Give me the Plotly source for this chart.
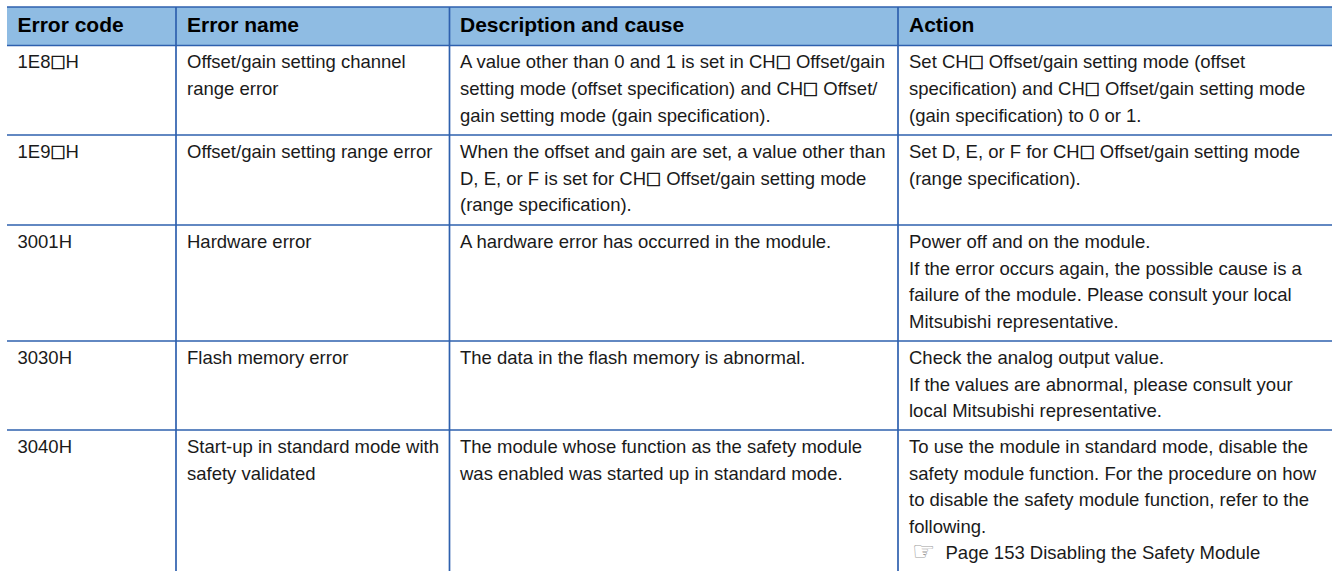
import plotly.graph_objects as go

headers = ["Error code", "Error name", "Description and cause", "Action"]
B = "<span style='font-family:\"Noto Sans CJK JP\";font-size:15px;stroke:#1a1a1a;stroke-width:0.7px'>□</span>"
error_codes = [[f"1E8{B}H"], [f"1E9{B}H"], ["3001H"], ["3030H"], ["3040H"]]
error_names = [
    ["Offset/gain setting channel", "range error"],
    ["Offset/gain setting range error"],
    ["Hardware error"],
    ["Flash memory error"],
    ["Start-up in standard mode with", "safety validated"],
]
descriptions = [
    [f"A value other than 0 and 1 is set in CH{B} Offset/gain", f"setting mode (offset specification) and CH{B} Offset/", "gain setting mode (gain specification)."],
    ["When the offset and gain are set, a value other than", f"D, E, or F is set for CH{B} Offset/gain setting mode", "(range specification)."],
    ["A hardware error has occurred in the module."],
    ["The data in the flash memory is abnormal."],
    ["The module whose function as the safety module", "was enabled was started up in standard mode."],
]
actions = [
    [f"Set CH{B} Offset/gain setting mode (offset", f"specification) and CH{B} Offset/gain setting mode", "(gain specification) to 0 or 1."],
    [f"Set D, E, or F for CH{B} Offset/gain setting mode", "(range specification)."],
    ["Power off and on the module.", "If the error occurs again, the possible cause is a", "failure of the module. Please consult your local", "Mitsubishi representative."],
    ["Check the analog output value.", "If the values are abnormal, please consult your", "local Mitsubishi representative."],
    ["To use the module in standard mode, disable the", "safety module function. For the procedure on how", "to disable the safety module function, refer to the", "following."],
]
reference_icon = ["☞"]
reference_link = ["Page 153 Disabling the Safety Module"]
columns = [error_codes, error_names, descriptions, actions]
column_edges = [7, 176, 449.5, 898, 1332]
text_x = [17.5, 187, 460, 909]
header_top, header_bottom = 7, 45.5
row_tops = [45.5, 135, 225, 341, 430]
table_bottom = 571
line_pitch = 26.6
first_line_offset = 18.3
header_mid = 26.3
LINE = "#2E60AE"
HEAD = "#8FBCE3"
BODY = 18.5
HSIZE = 21
FONT = "Liberation Sans"

fig = go.Figure()
fig.add_trace(go.Scatter(
    x=[column_edges[0], column_edges[-1], column_edges[-1], column_edges[0], column_edges[0]],
    y=[header_top, header_top, header_bottom, header_bottom, header_top],
    mode="lines", fill="toself", fillcolor=HEAD, line=dict(width=0), hoverinfo="skip", showlegend=False))
for y in [header_top, header_bottom] + row_tops[1:]:
    fig.add_trace(go.Scatter(x=[column_edges[0], column_edges[-1]], y=[y, y], mode="lines",
                             line=dict(color=LINE, width=1.7), hoverinfo="skip", showlegend=False))
for x in column_edges[1:-1]:
    fig.add_trace(go.Scatter(x=[x, x], y=[header_top, table_bottom], mode="lines",
                             line=dict(color=LINE, width=1.7), hoverinfo="skip", showlegend=False))
fig.add_trace(go.Scatter(x=text_x, y=[header_mid] * 4, text=[f"<b>{h}</b>" for h in headers], mode="text",
                         textposition="middle right", textfont=dict(family=FONT, size=HSIZE, color="#000000"),
                         hoverinfo="skip", showlegend=False))
for cx, col in zip(text_x, columns):
    xs, ys, ts = [], [], []
    for top, lines in zip(row_tops, col):
        for i, t in enumerate(lines):
            xs.append(cx)
            ys.append(top + first_line_offset + i * line_pitch)
            ts.append(t)
    fig.add_trace(go.Scatter(x=xs, y=ys, text=ts, mode="text", textposition="middle right",
                             textfont=dict(family=FONT, size=BODY, color="#1a1a1a"),
                             hoverinfo="skip", showlegend=False))
link_y = row_tops[4] + first_line_offset + 4 * line_pitch
fig.add_trace(go.Scatter(x=[912], y=[link_y - 1], text=reference_icon, mode="text", textposition="middle right",
                         textfont=dict(family="DejaVu Sans", size=26, color="#9a9a9a"),
                         hoverinfo="skip", showlegend=False))
fig.add_trace(go.Scatter(x=[945.5], y=[link_y], text=reference_link, mode="text", textposition="middle right",
                         textfont=dict(family=FONT, size=BODY, color="#1a1a1a"),
                         hoverinfo="skip", showlegend=False))
fig.update_layout(width=1332, height=571, margin=dict(l=0, r=0, t=0, b=0),
                  paper_bgcolor="white", plot_bgcolor="white",
                  xaxis=dict(range=[0, 1332], visible=False, fixedrange=True),
                  yaxis=dict(range=[571, 0], visible=False, fixedrange=True))
fig.write_html("out.html", config=dict(displayModeBar=False),
               post_script="document.body.style.margin='0';document.documentElement.style.overflow='hidden';")
